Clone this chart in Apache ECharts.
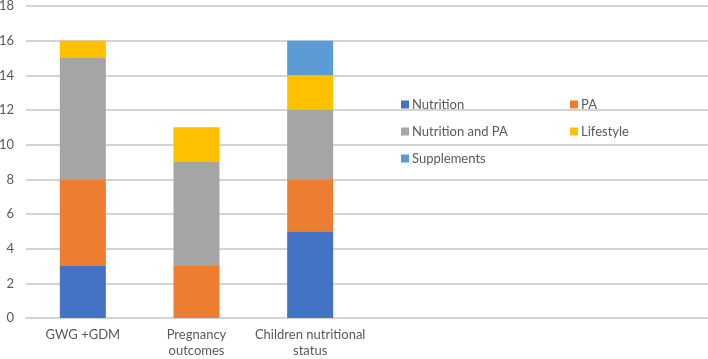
<!DOCTYPE html>
<html>
<head>
<meta charset="utf-8">
<script src="https://cdn.jsdelivr.net/npm/echarts@6/dist/echarts.min.js"></script>
<style>
  html, body { margin: 0; padding: 0; background: #fff; }
  #chart { width: 708px; height: 359px; }
</style>
</head>
<body>
<div id="chart"></div>
<script>
    var categories = ['GWG +GDM', 'Pregnancy\noutcomes', 'Children nutritional\nstatus'];
    var nutrition = [3, 0, 5];
    var pa = [5, 3, 3];
    var nutritionPa = [7, 6, 4];
    var lifestyle = [1, 2, 2];
    var supplements = [0, 0, 2];
    var yTicks = [0, 18, 2];   // min, max, step

    var font = 'Lato, "Open Sans", sans-serif';
    var textColor = '#595959';
    var gridColor = '#D4D4D4';

    // the plot area runs the full width but only the left half holds bars,
    // so pad the axis with empty slots
    var axisSlots = categories.concat(['', '', '']);

    function bar(name, data, color) {
        return {
            name: name,
            type: 'bar',
            stack: 'total',
            barWidth: 46,
            data: data,
            itemStyle: { color: color }
        };
    }

    var option = {
        animation: false,
        textStyle: { fontFamily: font },
        grid: { left: 26, right: 0, top: 6, bottom: 41, outerBoundsMode: 'none' },
        xAxis: {
            type: 'category',
            data: axisSlots,
            axisLine: { show: true, lineStyle: { color: gridColor, width: 2 } },
            axisTick: { show: false },
            axisLabel: {
                color: textColor,
                fontSize: 13,
                fontFamily: font,
                margin: 9,
                lineHeight: 16,
                interval: 0
            }
        },
        yAxis: {
            type: 'value',
            min: yTicks[0],
            max: yTicks[1],
            interval: yTicks[2],
            axisLine: { show: false },
            axisTick: { show: false },
            splitLine: { show: true, lineStyle: { color: gridColor, width: 2 } },
            axisLabel: { color: textColor, fontSize: 13, fontFamily: font, margin: 12 }
        },
        legend: [
            {
                data: ['Nutrition', 'Nutrition and PA', 'Supplements'],
                orient: 'vertical',
                left: 396,
                top: 93,
                itemGap: 14,
                itemWidth: 8,
                itemHeight: 8,
                icon: 'rect',
                textStyle: { color: textColor, fontSize: 13, fontFamily: font, padding: [0, 0, 0, -2] }
            },
            {
                data: ['PA', 'Lifestyle'],
                orient: 'vertical',
                left: 565,
                top: 93,
                itemGap: 14,
                itemWidth: 8,
                itemHeight: 8,
                icon: 'rect',
                textStyle: { color: textColor, fontSize: 13, fontFamily: font, padding: [0, 0, 0, -2] }
            }
        ],
        series: [
            bar('Nutrition', nutrition, '#4472C4'),
            bar('PA', pa, '#ED7D31'),
            bar('Nutrition and PA', nutritionPa, '#A5A5A5'),
            bar('Lifestyle', lifestyle, '#FFC000'),
            bar('Supplements', supplements, '#5B9BD5')
        ]
    };

    var myChart = echarts.init(document.getElementById('chart'));
    myChart.setOption(option);
</script>
</body>
</html>
